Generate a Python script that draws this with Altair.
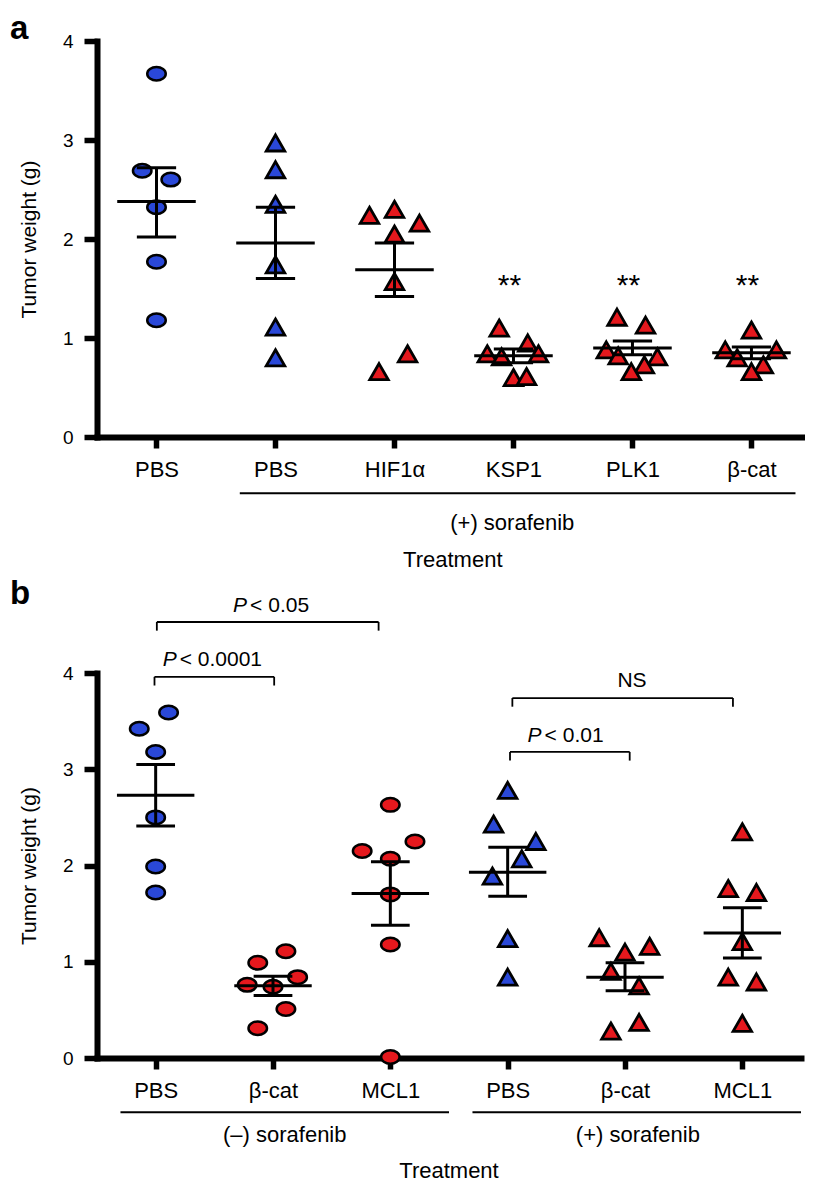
import json
import altair as alt
import pandas as pd

# ---------------- data ----------------
# Panel a
a_groups = ["PBS", "PBS", "HIF1α", "KSP1", "PLK1", "β-cat"]
a_marker = ["circle", "triangle", "triangle", "triangle", "triangle", "triangle"]
a_color = ["blue", "blue", "red", "red", "red", "red"]
a_values = [
    [3.67, 2.69, 2.60, 2.32, 1.77, 1.18],
    [2.97, 2.70, 2.35, 1.74, 1.11, 0.80],
    [2.24, 2.30, 2.16, 2.05, 1.57, 0.84, 0.66],
    [1.10, 0.84, 0.81, 0.95, 0.84, 0.60, 0.61],
    [1.21, 1.13, 0.88, 0.82, 0.81, 0.73, 0.66],
    [1.08, 0.88, 0.88, 0.80, 0.73, 0.66],
]
a_jitter = [
    [0.0, -0.12, 0.12, 0.0, 0.0, 0.0],
    [0.0, 0.0, 0.0, 0.0, 0.0, 0.0],
    [-0.21, 0.0, 0.21, 0.0, 0.0, 0.11, -0.13],
    [-0.12, -0.22, -0.10, 0.12, 0.21, 0.0, 0.11],
    [-0.13, 0.11, -0.22, -0.12, 0.21, 0.10, -0.01],
    [0.0, -0.22, 0.21, -0.12, 0.10, 0.0],
]
a_mean = [2.38, 1.96, 1.69, 0.82, 0.90, 0.85]
a_sem_lo = [2.02, 1.60, 1.42, 0.75, 0.83, 0.79]
a_sem_hi = [2.72, 2.32, 1.96, 0.89, 0.97, 0.91]
a_sig_groups = [3, 4, 5]
a_sig_labels = ["**", "**", "**"]
a_treat_labels = ["(+) sorafenib"]

# Panel b
b_groups = ["PBS", "β-cat", "MCL1", "PBS", "β-cat", "MCL1"]
b_marker = ["circle", "circle", "circle", "triangle", "triangle", "triangle"]
b_color = ["blue", "red", "red", "blue", "red", "red"]
b_values = [
    [3.59, 3.42, 3.18, 2.50, 1.99, 1.72],
    [1.11, 0.99, 0.84, 0.76, 0.74, 0.51, 0.31],
    [2.63, 2.25, 2.15, 2.07, 1.70, 1.18, 0.01],
    [2.78, 2.43, 2.25, 2.07, 1.89, 1.24, 0.84],
    [1.25, 1.10, 1.16, 0.90, 0.75, 0.37, 0.28],
    [2.35, 1.76, 1.72, 1.21, 0.84, 0.79, 0.36],
]
b_jitter = [
    [0.11, -0.14, 0.0, 0.0, 0.0, 0.0],
    [0.11, -0.13, 0.21, -0.22, 0.0, 0.11, -0.13],
    [0.0, 0.21, -0.24, 0.0, 0.0, 0.0, 0.0],
    [0.0, -0.12, 0.24, 0.12, -0.13, 0.0, 0.0],
    [-0.22, 0.0, 0.21, -0.12, 0.12, 0.12, -0.12],
    [0.0, -0.12, 0.12, 0.0, -0.12, 0.12, 0.0],
]
b_mean = [2.73, 0.75, 1.71, 1.93, 0.84, 1.30]
b_sem_lo = [2.41, 0.65, 1.38, 1.68, 0.70, 1.04]
b_sem_hi = [3.05, 0.85, 2.04, 2.19, 0.99, 1.56]
b_p_prefix = ["P", "P", "", "P"]
b_p_labels = ["< 0.05", "< 0.0001", "NS", "< 0.01"]
b_treat_labels = ["(–) sorafenib", "(+) sorafenib"]

# ---------------- styles / layout ----------------
FONT = "Liberation Sans"
FILLS = {"blue": "#2a48d8", "red": "#e5181d"}
ELLIPSE = ("M1,0C1,0.403,0.552,0.73,0,0.73C-0.552,0.73,-1,0.403,-1,0"
           "C-1,-0.403,-0.552,-0.73,0,-0.73C0.552,-0.73,1,-0.403,1,0Z")
TRIANGLE = "M0,-0.87L1,0.87L-1,0.87Z"
SHAPES = {"circle": ELLIPSE, "triangle": TRIANGLE}
SYM_SIZE = 342
MEAN_HALF = 0.33
CAP_HALF = 0.165
PANEL_LETTER_SIZE = 33

AXIS_COMMON = dict(
    domain=True, domainColor="black", domainWidth=6, domainCap="square",
    ticks=True, tickColor="black", tickWidth=5.5, grid=False,
    labelColor="black", labelFont=FONT, labelOverlap=False, labelFlush=False,
)


def enc_x(field, groups, xdomain):
    return alt.X(
        f"{field}:Q",
        scale=alt.Scale(domain=xdomain, nice=False, zero=False),
        axis=alt.Axis(
            values=list(range(len(groups))),
            labelExpr=json.dumps(groups, ensure_ascii=False) + "[datum.value]",
            title=None, tickSize=11, labelFontSize=22, labelPadding=11, labelAngle=0,
            **AXIS_COMMON,
        ),
    )


def enc_y(field):
    return alt.Y(
        f"{field}:Q",
        scale=alt.Scale(domain=[0, 4], nice=False, zero=False),
        axis=alt.Axis(
            values=[0, 1, 2, 3, 4], format="d", title="Tumor weight (g)",
            tickSize=13, labelFontSize=19, labelPadding=11,
            titleFont=FONT, titleFontSize=21, titleFontWeight="normal",
            titleColor="black", titlePadding=23,
            **AXIS_COMMON,
        ),
    )


def base_layers(groups, marker, color, values, jitter, mean, lo, hi, xdomain):
    rows = []
    for i, (vals, jit) in enumerate(zip(values, jitter)):
        for v, j in zip(vals, jit):
            rows.append({"x": i + j, "y": v, "marker": marker[i], "fill": FILLS[color[i]]})
    pts = pd.DataFrame(rows)
    err = pd.DataFrame({
        "cat": list(range(len(groups))),
        "mean": mean, "lo": lo, "hi": hi,
    })
    err["ml"] = err["cat"] - MEAN_HALF
    err["mr"] = err["cat"] + MEAN_HALF
    err["cl"] = err["cat"] - CAP_HALF
    err["cr"] = err["cat"] + CAP_HALF

    X = lambda f: enc_x(f, groups, xdomain)
    layers = []
    for m in ["circle", "triangle"]:
        sub = pts[pts["marker"] == m]
        if len(sub):
            layers.append(
                alt.Chart(sub).mark_point(
                    shape=SHAPES[m], filled=True, size=SYM_SIZE, stroke="black",
                    strokeWidth=2.5 if m == "circle" else 2.8, opacity=1,
                    strokeJoin="miter",
                ).encode(x=X("x"), y=enc_y("y"), fill=alt.Fill("fill:N", scale=None))
            )
    rule = dict(color="black", strokeWidth=3)
    ec = alt.Chart(err)
    layers += [
        ec.mark_rule(**rule).encode(x=X("cat"), y=enc_y("lo"), y2="hi"),
        ec.mark_rule(**rule).encode(x=X("ml"), x2="mr", y=enc_y("mean")),
        ec.mark_rule(**rule).encode(x=X("cl"), x2="cr", y=enc_y("hi")),
        ec.mark_rule(**rule).encode(x=X("cl"), x2="cr", y=enc_y("lo")),
    ]
    return layers, X


def text_layer(df, X, **kw):
    style = dict(font=FONT, color="black", fontSize=22, baseline="alphabetic")
    style.update(kw)
    return alt.Chart(df).mark_text(**style).encode(x=X("tx"), y=enc_y("ty"), text="t:N")


# ---------------- panel a ----------------
XD_A = [-0.5, 5.45]
layers_a, XA = base_layers(a_groups, a_marker, a_color, a_values, a_jitter,
                           a_mean, a_sem_lo, a_sem_hi, XD_A)
stars = pd.DataFrame({"tx": a_sig_groups, "ty": [1.43] * 3, "t": a_sig_labels})
layers_a.append(text_layer(stars, XA, fontSize=30, align="center", dx=-4))
treat_line_a = pd.DataFrame({"x1": [0.70], "x2": [5.37], "y": [-0.569]})
layers_a.append(alt.Chart(treat_line_a).mark_rule(color="black", strokeWidth=2)
                .encode(x=XA("x1"), x2="x2", y=enc_y("y")))
layers_a.append(text_layer(pd.DataFrame({"tx": [2.99], "ty": [-0.94], "t": a_treat_labels}),
                           XA, align="center"))
layers_a.append(text_layer(pd.DataFrame({"tx": [2.49], "ty": [-1.31], "t": ["Treatment"]}),
                           XA, align="center"))
layers_a.append(text_layer(pd.DataFrame({"tx": [-1.231], "ty": [4.016], "t": ["a"]}),
                           XA, align="left", fontSize=PANEL_LETTER_SIZE, fontWeight="bold"))
panel_a = alt.layer(*layers_a).properties(width=708, height=396)

# ---------------- panel b ----------------
XD_B = [-0.5, 5.5]
layers_b, XB = base_layers(b_groups, b_marker, b_color, b_values, b_jitter,
                           b_mean, b_sem_lo, b_sem_hi, XD_B)
brk = pd.DataFrame({
    "x1": [0.01, -0.01, 3.04, 3.02],
    "x2": [1.90, 1.01, 4.92, 4.04],
    "y": [4.53, 3.96, 3.74, 3.18],
})
brk["yd"] = brk["y"] - 0.09
bline = dict(color="black", strokeWidth=1.8)
layers_b += [
    alt.Chart(brk).mark_rule(**bline).encode(x=XB("x1"), x2="x2", y=enc_y("y")),
    alt.Chart(brk).mark_rule(**bline).encode(x=XB("x1"), y=enc_y("y"), y2="yd"),
    alt.Chart(brk).mark_rule(**bline).encode(x=XB("x2"), y=enc_y("y"), y2="yd"),
]
ptext = pd.DataFrame({
    "tx": [0.66, 0.06, 3.17],
    "ty": [4.63, 4.07, 3.28],
    "p": [b_p_prefix[0], b_p_prefix[1], b_p_prefix[3]],
    "t": [b_p_labels[0], b_p_labels[1], b_p_labels[3]],
})
layers_b.append(alt.Chart(ptext).mark_text(font=FONT, fontSize=21, fontStyle="italic",
                                           align="left", baseline="alphabetic", color="black")
                .encode(x=XB("tx"), y=enc_y("ty"), text="p:N"))
layers_b.append(text_layer(ptext, XB, fontSize=21, align="left", dx=17))
layers_b.append(text_layer(pd.DataFrame({"tx": [4.06], "ty": [3.85], "t": [b_p_labels[2]]}),
                           XB, fontSize=21, align="center"))
treat_line_b = pd.DataFrame({"x1": [-0.30, 2.70], "x2": [2.50, 5.50], "y": [-0.564, -0.564]})
layers_b.append(alt.Chart(treat_line_b).mark_rule(color="black", strokeWidth=2)
                .encode(x=XB("x1"), x2="x2", y=enc_y("y")))
layers_b.append(text_layer(pd.DataFrame({"tx": [1.10, 4.11], "ty": [-0.873, -0.873],
                                         "t": b_treat_labels}), XB, align="center"))
layers_b.append(text_layer(pd.DataFrame({"tx": [2.50], "ty": [-1.247], "t": ["Treatment"]}),
                           XB, align="center"))
layers_b.append(text_layer(pd.DataFrame({"tx": [-1.241], "ty": [4.72], "t": ["b"]}),
                           XB, align="left", fontSize=PANEL_LETTER_SIZE, fontWeight="bold"))
panel_b = alt.layer(*layers_b).properties(width=704, height=385)

chart = (
    alt.vconcat(panel_a, panel_b, spacing=6)
    .properties(padding={"left": 2, "top": 5, "right": 0, "bottom": 0}, background="white")
    .configure_view(stroke=None)
)

chart.save("out.html", embed_options={"renderer": "svg", "actions": False})
